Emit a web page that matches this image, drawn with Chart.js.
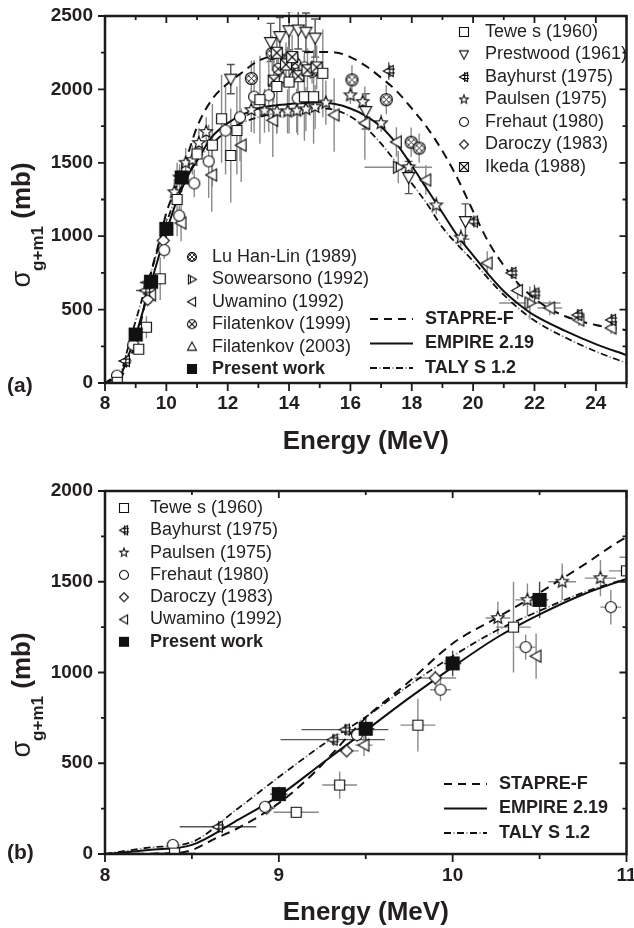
<!DOCTYPE html>
<html lang="en">
<head>
<meta charset="UTF-8">
<title>Cross section vs neutron energy</title>
<script src="https://cdn.jsdelivr.net/npm/chart.js@4"></script>
<style>
  body { margin: 0; background: #fff; }
  .panel { position: absolute; left: 0; }
</style>
</head>
<body>
<div class="panel" style="top:0"><canvas id="chartA" width="634" height="465"></canvas></div>
<div class="panel" style="top:465px"><canvas id="chartB" width="634" height="463"></canvas></div>
<script>
// ---- model curves: [energy (MeV), sigma (mb)] ----
const stapre = [[8,0],[8.4,5],[8.5,22],[8.64,88],[8.75,135],[9,280],[9.2,445],[9.5,750],[9.75,950],[10,1160],[10.25,1300],[10.5,1440],[10.75,1590],[11,1745],[11.5,1935],[12,2040],[12.5,2120],[13,2195],[14,2245],[15,2255],[15.5,2252],[16,2220],[16.5,2160],[17,2080],[17.5,1990],[18,1870],[18.5,1740],[19,1580],[19.5,1390],[20,1170],[20.5,960],[21,800],[21.5,670],[22,575],[22.5,505],[23,455],[24,395],[25,360]];
const empire = [[8,0],[8.25,22],[8.5,50],[8.75,180],[9,320],[9.25,500],[9.5,680],[9.75,860],[10,1030],[10.25,1190],[10.5,1320],[10.75,1430],[11,1515],[11.5,1680],[12,1770],[12.5,1830],[13,1870],[13.5,1890],[14,1900],[14.5,1908],[15,1910],[15.5,1900],[16,1870],[16.5,1820],[17,1745],[17.5,1630],[18,1480],[18.5,1320],[19,1160],[19.5,1000],[20,870],[20.5,740],[21,625],[21.5,535],[22,460],[23,355],[24,265],[25,190]];
const talys = [[8,0],[8.25,35],[8.5,66],[8.75,240],[9,424],[9.25,600],[9.5,755],[9.75,930],[10,1090],[10.25,1230],[10.5,1340],[10.75,1440],[11,1515],[11.5,1630],[12,1720],[12.5,1775],[13,1810],[13.5,1835],[14,1855],[14.5,1868],[15,1870],[15.5,1860],[16,1815],[16.5,1740],[17,1630],[17.5,1500],[18,1360],[18.5,1220],[19,1060],[19.5,940],[20,830],[20.5,710],[21,600],[21.5,505],[22,425],[23,310],[24,215],[25,136]];

// ---- measurements: [energy, sigma, dE, dSigma] ----
const tewes = [[8.4,5,0.12,10],[9.1,230,0.13,30],[9.35,380,0.1,75],[9.8,710,0.1,145],[10.35,1250,0.1,250],[11.0,1560,0.1,80],[11.5,1620,0,280],[11.8,1800,0,300],[12.1,1550,0,320],[12.3,1720,0,300],[13.05,1930,0,300],[13.6,2020,0,320],[14.0,2050,0,350],[14.5,1950,0,300],[14.8,1950,0,320],[15.1,2110,0,300]];
const prestwood = [[12.1,2070,0,100],[13.4,2320,0,130],[13.7,2360,0,130],[14.0,2400,0,130],[14.3,2405,0,130],[14.55,2390,0,130],[14.85,2350,0,130],[16.5,1850,0,120],[17.9,1400,0,110],[19.75,1100,0,120]];
const bayhurst = [[8.65,150,0.22,20],[9.31,630,0.3,30],[9.38,685,0.25,30],[17.25,2125,0,60],[20.0,1100,0.1,30],[21.25,750,0.1,40],[22.0,610,0.1,60],[23.4,463,0.1,40],[24.5,430,0.15,40]];
const paulsen = [[10.26,1300,0.07,90],[10.43,1400,0.07,90],[10.63,1500,0.08,100],[10.85,1520,0.09,100],[11.06,1635,0.1,100],[11.3,1710,0.1,100],[12.77,1860,0,150],[13.2,1855,0,150],[13.6,1850,0,150],[13.95,1850,0,150],[14.25,1855,0,150],[14.55,1865,0,150],[14.85,1880,0,150],[15.2,1910,0,150],[16.0,1960,0.15,60],[16.4,1915,0.15,60],[17.0,1770,0.15,60],[17.9,1470,0.15,60],[18.8,1210,0.1,60],[19.6,990,0.1,60]];
const frehaut = [[8.39,50,0,10],[8.92,260,0,20],[9.45,656,0,40],[9.93,905,0.06,60],[10.42,1140,0.06,70],[10.91,1360,0.06,95],[11.38,1510,0,250],[11.93,1720,0,300],[12.4,1810,0,300],[12.86,1950,0,250],[13.34,1960,0,250],[14.28,1940,0,250]];
const daroczy = [[8.93,253,0.05,15],[9.39,568,0.07,30],[9.9,970,0.12,40]];
const ikeda = [[13.5,2060,0,150],[13.6,2250,0,150],[13.9,2170,0,150],[14.1,2220,0,150],[14.3,2090,0,150],[14.6,2130,0,150],[14.9,2150,0,150]];
const luHanLin = [[12.77,2075,0,120],[13.45,2245,0,120],[14.0,2200,0,100],[16.05,2065,0,100],[17.17,1930,0,100],[17.98,1640,0,100],[18.24,1600,0,100]];
const sowearsono = [[17.56,1470,1.1,110],[21.85,545,1.0,113]];
const uwamino = [[9.49,600,0.05,60],[10.48,1090,0,125],[11.48,1417,0,250],[12.44,1620,0,250],[13.47,1790,0,250],[15.47,1826,0,250],[16.47,1770,0,250],[17.5,1642,0,100],[18.46,1383,0,100],[20.46,817,0,80],[21.45,630,0,60],[22.5,511,0.4,50],[23.45,429,0,40],[24.5,375,0,40]];
const filatenkov99 = [[13.65,2140,0,80],[13.95,2210,0,80],[14.2,2180,0,80],[14.5,2150,0,80],[14.75,2120,0,80]];
const filatenkov03 = [[13.8,2080,0,60],[14.15,2100,0,60],[14.7,2130,0,60]];
const present = [[9.0,330,0.05,40],[9.5,690,0.05,70],[10.0,1050,0.05,70],[10.5,1400,0.05,100]];

const FONT = "'Liberation Sans', Arial, Helvetica, sans-serif";
const INK = '#231f20';
Chart.defaults.color = INK;

// small canvases used as point symbols
function makeSymbol(kind, r, lw) {
  const size = Math.ceil(r * 2 + lw * 2 + 4);
  const c = document.createElement('canvas');
  c.width = size; c.height = size;
  const g = c.getContext('2d');
  g.translate(size / 2, size / 2);
  g.lineWidth = lw;
  g.strokeStyle = '#111';
  g.fillStyle = '#fff';
  const poly = pts => {
    g.beginPath();
    pts.forEach((p, i) => i ? g.lineTo(p[0], p[1]) : g.moveTo(p[0], p[1]));
    g.closePath(); g.fill(); g.stroke();
  };
  const seg = (x1, y1, x2, y2) => { g.beginPath(); g.moveTo(x1, y1); g.lineTo(x2, y2); g.stroke(); };
  const circ = () => { g.beginPath(); g.arc(0, 0, r, 0, Math.PI * 2); g.fill(); g.stroke(); };
  const sq = [[-r, -r], [r, -r], [r, r], [-r, r]];
  switch (kind) {
    case 'square': poly(sq); break;
    case 'filled': g.fillStyle = '#111'; poly(sq); break;
    case 'circle': circ(); break;
    case 'down': poly([[-r, -r * 0.8], [r, -r * 0.8], [0, r]]); break;
    case 'up': poly([[-r, r * 0.8], [r, r * 0.8], [0, -r]]); break;
    case 'left': poly([[r * 0.8, -r], [r * 0.8, r], [-r, 0]]); break;
    case 'diamond': poly([[0, -r], [r, 0], [0, r], [-r, 0]]); break;
    case 'star': {
      const pts = [];
      for (let i = 0; i < 10; i++) {
        const a = -Math.PI / 2 + i * Math.PI / 5;
        const rr = i % 2 ? r * 0.45 : r;
        pts.push([rr * Math.cos(a), rr * Math.sin(a)]);
      }
      poly(pts); break;
    }
    case 'boxx': poly(sq); seg(-r, -r, r, r); seg(-r, r, r, -r); break;
    case 'circx': {
      circ(); const k = r * 0.707;
      seg(-k, -k, k, k); seg(-k, k, k, -k); break;
    }
    case 'hatch': {
      circ();
      g.save(); g.beginPath(); g.arc(0, 0, r, 0, Math.PI * 2); g.clip();
      g.lineWidth = lw * 0.75;
      for (let o = -r * 0.9; o <= r * 0.91; o += r * 0.9) {
        seg(-r * 2 + o, -r * 2, r * 2 + o, r * 2);
        seg(-r * 2 + o, r * 2, r * 2 + o, -r * 2);
      }
      g.restore(); break;
    }
    case 'bay':
      poly([[r * 0.8, -r], [r * 0.8, r], [-r, 0]]);
      seg(r * 0.15, -r * 1.1, r * 0.15, r * 1.1);
      seg(-r * 0.3, -r * 0.35, r * 1.1, -r * 0.35);
      seg(-r * 0.3, r * 0.35, r * 1.1, r * 0.35);
      break;
    case 'sow':
      poly([[-r * 0.8, -r], [-r * 0.8, r], [r, 0]]);
      seg(-r * 0.35, -r * 0.75, -r * 0.35, r * 0.75);
      break;
  }
  return c;
}

const toPts = arr => arr.map(([x, y, dx, dy]) => ({ x, y, dx, dy }));

function series(arr, kind, r, extra) {
  return Object.assign({
    data: toPts(arr),
    pointStyle: makeSymbol(kind, r, 1.2),
    pointRadius: r,
    showLine: false,
    errColor: '#8a8a8a',
    order: 0
  }, extra || {});
}

function curve(arr, color, width, dash, offset) {
  return {
    data: arr.map(([x, y]) => ({ x, y })),
    showLine: true,
    pointRadius: 0,
    borderColor: color,
    borderWidth: width,
    borderDash: dash,
    borderDashOffset: offset || 0,
    cubicInterpolationMode: 'monotone',
    fill: false,
    order: 1
  };
}

function modelCurves() {
  return [
    curve(stapre, '#111', 2, [9, 6]),
    curve(empire, '#111', 2, []),
    curve(talys, '#9a9a9a', 1.6, [2, 11], 4),
    curve(talys, '#111', 1.8, [7, 6])
  ];
}

// error bars drawn behind the symbols
const errorBars = {
  id: 'errorBars',
  beforeDatasetsDraw(chart) {
    const { ctx, chartArea: a, scales: { x, y } } = chart;
    ctx.save();
    ctx.beginPath(); ctx.rect(a.left, a.top - 4, a.width, a.height + 4); ctx.clip();
    chart.data.datasets.forEach(ds => {
      if (!ds.errColor) return;
      ctx.strokeStyle = ds.errColor;
      ctx.lineWidth = 1.4;
      ds.data.forEach(p => {
        const px = x.getPixelForValue(p.x), py = y.getPixelForValue(p.y);
        ctx.beginPath();
        if (p.dy) {
          const t = y.getPixelForValue(p.y + p.dy), b = y.getPixelForValue(p.y - p.dy);
          ctx.moveTo(px, t); ctx.lineTo(px, b);
          if (ds.cap) { ctx.moveTo(px - ds.cap, t); ctx.lineTo(px + ds.cap, t); ctx.moveTo(px - ds.cap, b); ctx.lineTo(px + ds.cap, b); }
        }
        if (p.dx) {
          ctx.moveTo(x.getPixelForValue(p.x - p.dx), py);
          ctx.lineTo(x.getPixelForValue(p.x + p.dx), py);
        }
        ctx.stroke();
      });
    });
    ctx.restore();
  }
};

// box frame with major/minor ticks (outward bottom/left, inward top/right)
const frame = {
  id: 'frame',
  afterDraw(chart, args, o) {
    const { ctx, chartArea: a, scales: { x, y } } = chart;
    const isMajor = (v, start, step) => Math.abs((v - start) / step - Math.round((v - start) / step)) < 1e-6;
    ctx.save();
    ctx.strokeStyle = '#1a1a1a';
    ctx.lineWidth = 1.8;
    ctx.beginPath();
    for (let v = x.min; v <= x.max + 1e-9; v += o.xMinor) {
      const px = x.getPixelForValue(v);
      const m = isMajor(v, x.min, o.xMajor);
      ctx.moveTo(px, a.bottom); ctx.lineTo(px, a.bottom + (m ? 8 : 5));
      ctx.moveTo(px, a.top); ctx.lineTo(px, a.top + (m ? 7 : 4));
    }
    for (let v = y.min; v <= y.max + 1e-9; v += o.yMinor) {
      const py = y.getPixelForValue(v);
      const m = isMajor(v, y.min, o.yMajor);
      ctx.moveTo(a.left, py); ctx.lineTo(a.left - (m ? 7 : 4), py);
      ctx.moveTo(a.right, py); ctx.lineTo(a.right - (m ? 7 : 4), py);
    }
    ctx.stroke();
    ctx.lineWidth = 2.5;
    ctx.strokeRect(a.left, a.top, a.width, a.height);
    ctx.restore();
  }
};

// custom legend blocks
const keys = {
  id: 'keys',
  afterDraw(chart, args, o) {
    const ctx = chart.ctx;
    ctx.save();
    ctx.textBaseline = 'middle';
    ctx.textAlign = 'left';
    ctx.fillStyle = INK;
    (o.blocks || []).forEach(b => {
      b.items.forEach((it, i) => {
        const yy = b.y + i * b.dy;
        ctx.font = (it.bold ? 'bold ' : '') + '18px ' + FONT;
        if (it.sym) ctx.drawImage(it.sym, b.sx - it.sym.width / 2, yy - it.sym.height / 2);
        if (it.dash) {
          it.dash.forEach(d => {
            ctx.strokeStyle = d.color; ctx.lineWidth = d.width;
            ctx.setLineDash(d.pattern); ctx.lineDashOffset = d.offset || 0;
            ctx.beginPath(); ctx.moveTo(b.x1, yy); ctx.lineTo(b.x2, yy); ctx.stroke();
          });
          ctx.setLineDash([]);
        }
        ctx.fillText(it.text, b.tx, yy);
      });
    });
    ctx.restore();
  }
};

// axis titles and panel tag
const titles = {
  id: 'titles',
  afterDraw(chart, args, o) {
    const { ctx, chartArea: a } = chart;
    ctx.save();
    ctx.fillStyle = INK;
    ctx.textBaseline = 'middle';
    ctx.textAlign = 'center';
    ctx.font = 'bold 26px ' + FONT;
    ctx.fillText('Energy (MeV)', (a.left + a.right) / 2, o.xTitleY);
    ctx.textAlign = 'left';
    ctx.font = 'bold 21px ' + FONT;
    ctx.fillText(o.tag, 7, o.tagY);
    // rotated sigma_{g+m1} (mb)
    ctx.translate(o.yBase, o.yTitleY);
    ctx.rotate(-Math.PI / 2);
    ctx.textBaseline = 'alphabetic';
    ctx.font = '27px ' + FONT; const w1 = ctx.measureText('σ').width;
    ctx.font = 'bold 17px ' + FONT; const w2 = ctx.measureText('g+m1').width;
    ctx.font = 'bold 26px ' + FONT; const w3 = ctx.measureText(' (mb)').width;
    let u = -(w1 + w2 + w3) / 2;
    ctx.font = '27px ' + FONT; ctx.fillText('σ', u, 0); u += w1;
    ctx.font = 'bold 17px ' + FONT; ctx.fillText('g+m1', u, 13); u += w2;
    ctx.font = 'bold 26px ' + FONT; ctx.fillText(' (mb)', u, 0);
    ctx.restore();
  }
};

const tickFont = { family: FONT, size: 19, weight: 'bold' };

function buildChart(id, c) {
  return new Chart(document.getElementById(id), {
    type: 'scatter',
    data: { datasets: c.datasets },
    options: {
      responsive: false,
      animation: false,
      devicePixelRatio: 1,
      layout: { padding: c.padding },
      plugins: {
        legend: { display: false },
        tooltip: { enabled: false },
        frame: c.frame,
        keys: { blocks: c.blocks },
        titles: c.titles
      },
      scales: {
        x: {
          type: 'linear', min: c.xMin, max: c.xMax,
          grid: { display: false, drawTicks: false },
          border: { display: false },
          ticks: { stepSize: c.xStep, includeBounds: false, padding: c.xPad, font: tickFont, color: INK, maxRotation: 0, callback: v => String(v) },
          afterFit(s) { s.height = c.xHeight; s.paddingLeft = 0; s.paddingRight = 0; }
        },
        y: {
          type: 'linear', min: 0, max: c.yMax,
          grid: { display: false, drawTicks: false },
          border: { display: false },
          ticks: { stepSize: 500, includeBounds: false, padding: 12, font: tickFont, color: INK, callback: v => String(v) },
          afterFit(s) { s.width = 105; s.paddingTop = 0; s.paddingBottom = 0; }
        }
      }
    },
    plugins: [errorBars, frame, keys, titles]
  });
}

// legend-size symbols
const S = {};
['square', 'down', 'bay', 'star', 'circle', 'diamond', 'boxx', 'hatch', 'sow', 'left', 'circx', 'up', 'filled'].forEach(k => {
  S[k] = makeSymbol(k, 4.5, 1.1);
});

const modelKeys = [
  { text: 'STAPRE-F', bold: true, dash: [{ color: '#111', width: 2, pattern: [8, 6] }] },
  { text: 'EMPIRE 2.19', bold: true, dash: [{ color: '#111', width: 2, pattern: [] }] },
  { text: 'TALY S 1.2', bold: true, dash: [{ color: '#9a9a9a', width: 1.6, pattern: [2, 11], offset: 4 }, { color: '#111', width: 1.8, pattern: [7, 6] }] }
];

// ---- panel (a) ----
buildChart('chartA', {
  datasets: [
    series(present, 'filled', 6.5, { errColor: '#444' }),
    series(tewes, 'square', 5),
    series(prestwood, 'down', 6, { errColor: '#555', cap: 4 }),
    series(bayhurst, 'bay', 5.5, { errColor: '#555' }),
    series(paulsen, 'star', 6.5),
    series(frehaut, 'circle', 5.5),
    series(daroczy, 'diamond', 6),
    series(ikeda, 'boxx', 5.5),
    series(luHanLin, 'hatch', 6),
    series(sowearsono, 'sow', 6),
    series(uwamino, 'left', 6),
    series(filatenkov99, 'circx', 5.5),
    series(filatenkov03, 'up', 6),
    ...modelCurves()
  ],
  padding: { left: 0, top: 16, right: 1, bottom: 0 },
  xMin: 8, xMax: 25, xStep: 2, xPad: 9, xHeight: 82, yMax: 2500,
  frame: { xMinor: 1, xMajor: 2, yMinor: 250, yMajor: 500 },
  titles: { xTitleY: 442, tag: '(a)', tagY: 386, yBase: 30, yTitleY: 225 },
  blocks: [
    { sx: 464, tx: 485, y: 32, dy: 22.5, items: [
      { sym: S.square, text: 'Tewe s (1960)' },
      { sym: S.down, text: 'Prestwood (1961)' },
      { sym: S.bay, text: 'Bayhurst (1975)' },
      { sym: S.star, text: 'Paulsen (1975)' },
      { sym: S.circle, text: 'Frehaut (1980)' },
      { sym: S.diamond, text: 'Daroczy (1983)' },
      { sym: S.boxx, text: 'Ikeda (1988)' }
    ] },
    { sx: 192, tx: 212, y: 257, dy: 22.4, items: [
      { sym: S.hatch, text: 'Lu Han-Lin (1989)' },
      { sym: S.sow, text: 'Sowearsono (1992)' },
      { sym: S.left, text: 'Uwamino (1992)' },
      { sym: S.circx, text: 'Filatenkov (1999)' },
      { sym: S.up, text: 'Filatenkov (2003)' },
      { sym: S.filled, text: 'Present work', bold: true }
    ] },
    { x1: 370, x2: 413, tx: 425, y: 319, dy: 24.5, items: modelKeys }
  ]
});

// ---- panel (b) ----
buildChart('chartB', {
  datasets: [
    series(present, 'filled', 6.5, { errColor: '#444' }),
    series(tewes, 'square', 5),
    series(bayhurst, 'bay', 5.5, { errColor: '#555' }),
    series(paulsen, 'star', 6.5),
    series(frehaut, 'circle', 5.5),
    series(daroczy, 'diamond', 6),
    series(uwamino, 'left', 6),
    ...modelCurves()
  ],
  padding: { left: 0, top: 26, right: 7, bottom: 0 },
  xMin: 8, xMax: 11, xStep: 1, xPad: 10, xHeight: 74, yMax: 2000,
  frame: { xMinor: 0.5, xMajor: 1, yMinor: 250, yMajor: 500 },
  titles: { xTitleY: 448, tag: '(b)', tagY: 388, yBase: 30, yTitleY: 230 },
  blocks: [
    { sx: 124, tx: 150, y: 43, dy: 22.3, items: [
      { sym: S.square, text: 'Tewe s (1960)' },
      { sym: S.bay, text: 'Bayhurst (1975)' },
      { sym: S.star, text: 'Paulsen (1975)' },
      { sym: S.circle, text: 'Frehaut (1980)' },
      { sym: S.diamond, text: 'Daroczy (1983)' },
      { sym: S.left, text: 'Uwamino (1992)' },
      { sym: S.filled, text: 'Present work', bold: true }
    ] },
    { x1: 444, x2: 487, tx: 499, y: 319, dy: 24.5, items: modelKeys }
  ]
});
</script>
</body>
</html>
